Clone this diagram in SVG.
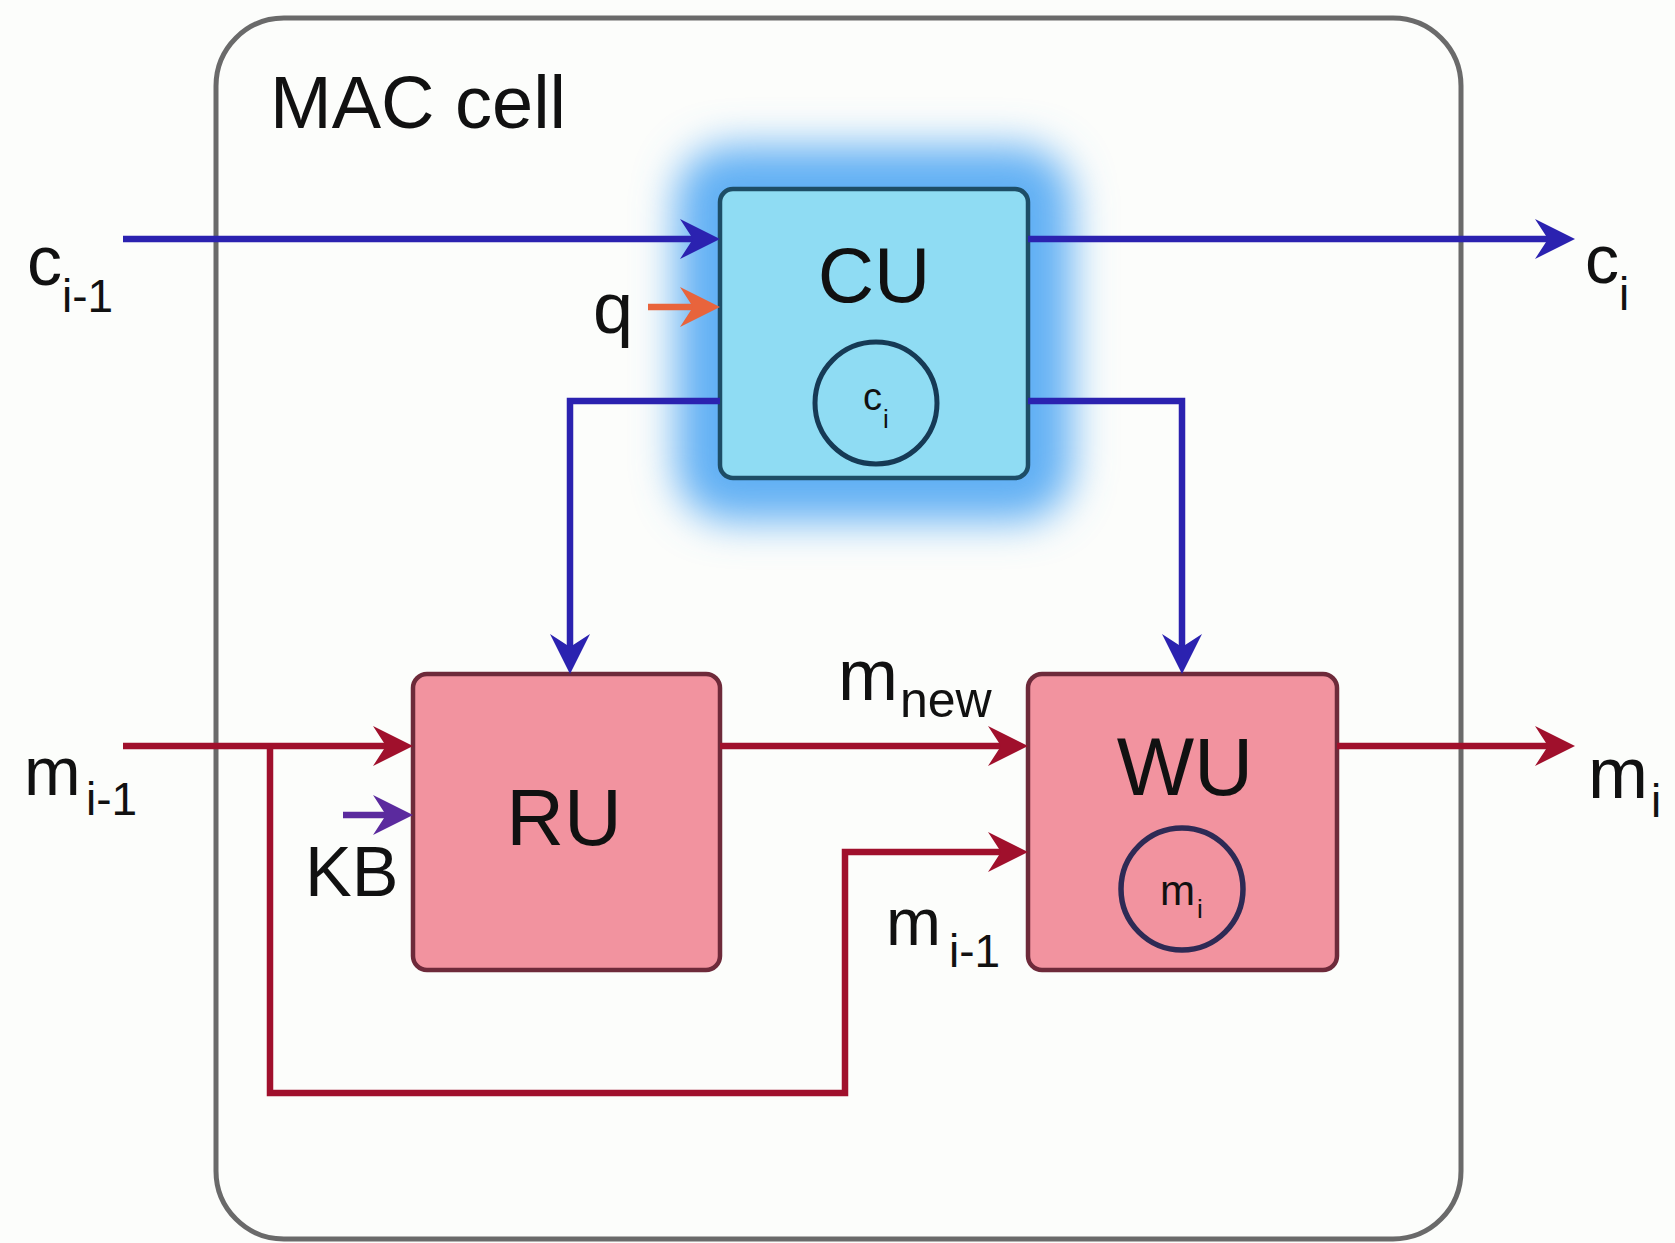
<svg xmlns="http://www.w3.org/2000/svg" width="1675" height="1243" viewBox="0 0 1675 1243">
  <style>
    .t { font-family: "Liberation Sans", Arial, sans-serif; fill: #111; }
    .blue { stroke: #2b22b0; }
    .red { stroke: #a0102c; }
    .orange { stroke: #e8643c; }
    .purple { stroke: #5b2a9e; }
    .wire { fill: none; stroke-width: 6.5; stroke-linejoin: miter; stroke-linecap: butt; }
    .unit { fill: #f2939f; stroke: #6e2a3a; stroke-width: 4.5; }
  </style>
  <defs>
    <marker id="ah-blue" markerUnits="userSpaceOnUse" orient="auto" viewBox="-20 -25 50 50" markerWidth="50" markerHeight="50" refX="0" refY="0">
      <path d="M27,0 L-13,-20 L0,0 L-13,20 Z" fill="#2b22b0"/>
    </marker>
    <marker id="ah-red" markerUnits="userSpaceOnUse" orient="auto" viewBox="-20 -25 50 50" markerWidth="50" markerHeight="50" refX="0" refY="0">
      <path d="M27,0 L-13,-20 L0,0 L-13,20 Z" fill="#a0102c"/>
    </marker>
    <marker id="ah-orange" markerUnits="userSpaceOnUse" orient="auto" viewBox="-20 -25 50 50" markerWidth="50" markerHeight="50" refX="0" refY="0">
      <path d="M27,0 L-13,-20 L0,0 L-13,20 Z" fill="#e8643c"/>
    </marker>
    <marker id="ah-purple" markerUnits="userSpaceOnUse" orient="auto" viewBox="-20 -25 50 50" markerWidth="50" markerHeight="50" refX="0" refY="0">
      <path d="M27,0 L-13,-20 L0,0 L-13,20 Z" fill="#5b2a9e"/>
    </marker>
    <filter id="glow" x="-50%" y="-50%" width="200%" height="200%">
      <feGaussianBlur stdDeviation="20"/>
    </filter>
  </defs>

  <rect x="0" y="0" width="1675" height="1243" fill="#fcfdfb"/>

  <g id="mac-cell">
    <rect x="216" y="18" width="1245" height="1221" rx="68" ry="68" fill="none" stroke="#6a6a6a" stroke-width="5"/>
    <text class="t" x="270" y="128" font-size="74">MAC cell</text>
  </g>

  <g id="CU">
    <rect x="676" y="146" width="396" height="375" rx="55" fill="#62b0f4" filter="url(#glow)"/>
    <rect x="720" y="189" width="308" height="289" rx="13" fill="#8fdcf3" stroke="#1d4d66" stroke-width="4.5"/>
    <text class="t" x="874" y="302" font-size="78" text-anchor="middle">CU</text>
    <circle cx="876" cy="403" r="61" fill="none" stroke="#163a55" stroke-width="5"/>
    <text class="t" x="863" y="410" font-size="38">c<tspan x="883" y="428" font-size="26">i</tspan></text>
  </g>

  <g id="RU">
    <rect class="unit" x="413" y="674" width="307" height="296" rx="14"/>
    <text class="t" x="564" y="845" font-size="80" text-anchor="middle">RU</text>
  </g>

  <g id="WU">
    <rect class="unit" x="1028" y="674" width="309" height="296" rx="14"/>
    <text class="t" x="1185" y="795" font-size="82" text-anchor="middle">WU</text>
    <circle cx="1182" cy="889" r="61" fill="none" stroke="#2e2a55" stroke-width="5.5"/>
    <text class="t" x="1160" y="905" font-size="42">m<tspan x="1197" y="918" font-size="26">i</tspan></text>
  </g>

  <g id="connectors">
    <path class="wire blue" d="M123,239 H693" marker-end="url(#ah-blue)"/>
    <path class="wire orange" d="M648,307 H693" marker-end="url(#ah-orange)"/>
    <path class="wire blue" d="M1028,239 H1548" marker-end="url(#ah-blue)"/>
    <path class="wire blue" d="M720,401 H570 V647" marker-end="url(#ah-blue)"/>
    <path class="wire blue" d="M1028,401 H1182 V647" marker-end="url(#ah-blue)"/>
    <path class="wire red" d="M123,746 H386" marker-end="url(#ah-red)"/>
    <path class="wire purple" d="M343,815 H386" marker-end="url(#ah-purple)"/>
    <path class="wire red" d="M720,746 H1001" marker-end="url(#ah-red)"/>
    <path class="wire red" d="M270,746 V1093 H845 V852 H1001" marker-end="url(#ah-red)"/>
    <path class="wire red" d="M1337,746 H1548" marker-end="url(#ah-red)"/>
  </g>

  <g id="labels">
    <text class="t" x="27" y="285" font-size="70">c<tspan x="62" y="312" font-size="46">i-1</tspan></text>
    <text class="t" x="593" y="333" font-size="72">q</text>
    <text class="t" x="1585" y="283" font-size="68">c<tspan x="1619" y="310" font-size="46">i</tspan></text>
    <text class="t" x="24" y="795" font-size="68">m<tspan x="86" y="815" font-size="46">i-1</tspan></text>
    <text class="t" x="305" y="896" font-size="70">KB</text>
    <text class="t" x="838" y="700" font-size="72">m<tspan x="900" y="717" font-size="50">new</tspan></text>
    <text class="t" x="886" y="945" font-size="66">m<tspan x="949" y="967" font-size="46">i-1</tspan></text>
    <text class="t" x="1588" y="798" font-size="72">m<tspan x="1651" y="817" font-size="46">i</tspan></text>
  </g>
</svg>
